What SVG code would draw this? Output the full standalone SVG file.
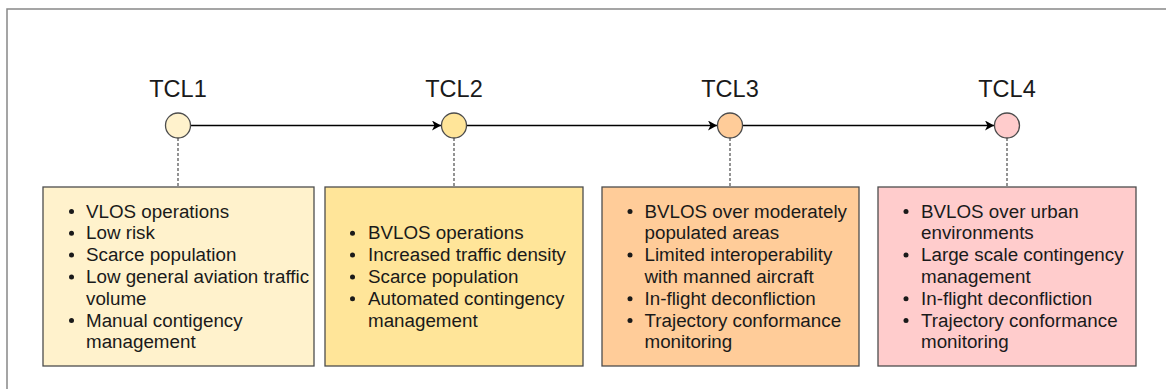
<svg xmlns="http://www.w3.org/2000/svg" width="1166" height="389" viewBox="0 0 1166 389">
<style>
text{font-family:"Liberation Sans",Arial,sans-serif;fill:#1a1a1a}
.t{font-size:23.5px;text-anchor:middle}
.b{font-size:18.8px}
.box{stroke:#4d4d4d;stroke-width:1.3}
.dot{fill:#1a1a1a}
.dash{stroke:#4d4d4d;stroke-width:1.2;stroke-dasharray:3 2;fill:none}
.arr{stroke:#000;stroke-width:1.6;fill:none}
</style>
<defs>
<marker id="ah" markerWidth="10" markerHeight="10" refX="9" refY="5" orient="auto" markerUnits="userSpaceOnUse">
<path d="M0,0 L9,5 L0,10 L2.5,5 Z" fill="#000"/>
</marker>
</defs>
<rect width="1166" height="389" fill="#fff"/>
<rect x="7" y="9" width="1200" height="420" fill="none" stroke="#888" stroke-width="1.5"/>
<g id="connectors">
<line class="arr" x1="190.5" y1="125.5" x2="441" y2="125.5" marker-end="url(#ah)"/>
<line class="arr" x1="466.5" y1="125.5" x2="717" y2="125.5" marker-end="url(#ah)"/>
<line class="arr" x1="742.5" y1="125.5" x2="994" y2="125.5" marker-end="url(#ah)"/>
<line class="dash" x1="178" y1="138" x2="178" y2="187"/>
<line class="dash" x1="454" y1="138" x2="454" y2="187"/>
<line class="dash" x1="730" y1="138" x2="730" y2="187"/>
<line class="dash" x1="1007" y1="138" x2="1007" y2="187"/>
</g>
<g id="tcl1">
<text class="t" x="178" y="97">TCL1</text>
<circle class="box" cx="178" cy="125.5" r="12.5" fill="#fff2cc"/>
</g>
<g id="tcl2">
<text class="t" x="454" y="97">TCL2</text>
<circle class="box" cx="454" cy="125.5" r="12.5" fill="#ffe599"/>
</g>
<g id="tcl3">
<text class="t" x="730" y="97">TCL3</text>
<circle class="box" cx="730" cy="125.5" r="12.5" fill="#ffcc99"/>
</g>
<g id="tcl4">
<text class="t" x="1007" y="97">TCL4</text>
<circle class="box" cx="1007" cy="125.5" r="12.5" fill="#ffcccc"/>
</g>
<g id="box1">
<rect class="box" x="43" y="187" width="271" height="179" fill="#fff2cc"/>
<g class="dot"><circle cx="71.5" cy="211.5" r="2.5"/><circle cx="71.5" cy="233.3" r="2.5"/><circle cx="71.5" cy="255.1" r="2.5"/><circle cx="71.5" cy="276.9" r="2.5"/><circle cx="71.5" cy="320.5" r="2.5"/></g>
<text class="b" x="86" y="217.5">VLOS operations</text>
<text class="b" x="86" y="239.3">Low risk</text>
<text class="b" x="86" y="261.1">Scarce population</text>
<text class="b" x="86" y="282.9">Low general aviation traffic</text>
<text class="b" x="86" y="304.7">volume</text>
<text class="b" x="86" y="326.5">Manual contigency</text>
<text class="b" x="86" y="348.3">management</text>
</g>
<g id="box2">
<rect class="box" x="325" y="187" width="258" height="179" fill="#ffe599"/>
<g class="dot"><circle cx="352.5" cy="233.3" r="2.5"/><circle cx="352.5" cy="255.1" r="2.5"/><circle cx="352.5" cy="276.9" r="2.5"/><circle cx="352.5" cy="298.7" r="2.5"/></g>
<text class="b" x="368" y="239.3">BVLOS operations</text>
<text class="b" x="368" y="261.1">Increased traffic density</text>
<text class="b" x="368" y="282.9">Scarce population</text>
<text class="b" x="368" y="304.7">Automated contingency</text>
<text class="b" x="368" y="326.5">management</text>
</g>
<g id="box3">
<rect class="box" x="602" y="187" width="257" height="179" fill="#ffcc99"/>
<g class="dot"><circle cx="630" cy="211.5" r="2.5"/><circle cx="630" cy="255.1" r="2.5"/><circle cx="630" cy="298.7" r="2.5"/><circle cx="630" cy="320.5" r="2.5"/></g>
<text class="b" x="644.5" y="217.5">BVLOS over moderately</text>
<text class="b" x="644.5" y="239.3">populated areas</text>
<text class="b" x="644.5" y="261.1">Limited interoperability</text>
<text class="b" x="644.5" y="282.9">with manned aircraft</text>
<text class="b" x="644.5" y="304.7">In-flight deconfliction</text>
<text class="b" x="644.5" y="326.5">Trajectory conformance</text>
<text class="b" x="644.5" y="348.3">monitoring</text>
</g>
<g id="box4">
<rect class="box" x="878" y="187" width="258" height="179" fill="#ffcccc"/>
<g class="dot"><circle cx="906" cy="211.5" r="2.5"/><circle cx="906" cy="255.1" r="2.5"/><circle cx="906" cy="298.7" r="2.5"/><circle cx="906" cy="320.5" r="2.5"/></g>
<text class="b" x="921" y="217.5">BVLOS over urban</text>
<text class="b" x="921" y="239.3">environments</text>
<text class="b" x="921" y="261.1">Large scale contingency</text>
<text class="b" x="921" y="282.9">management</text>
<text class="b" x="921" y="304.7">In-flight deconfliction</text>
<text class="b" x="921" y="326.5">Trajectory conformance</text>
<text class="b" x="921" y="348.3">monitoring</text>
</g>
</svg>
